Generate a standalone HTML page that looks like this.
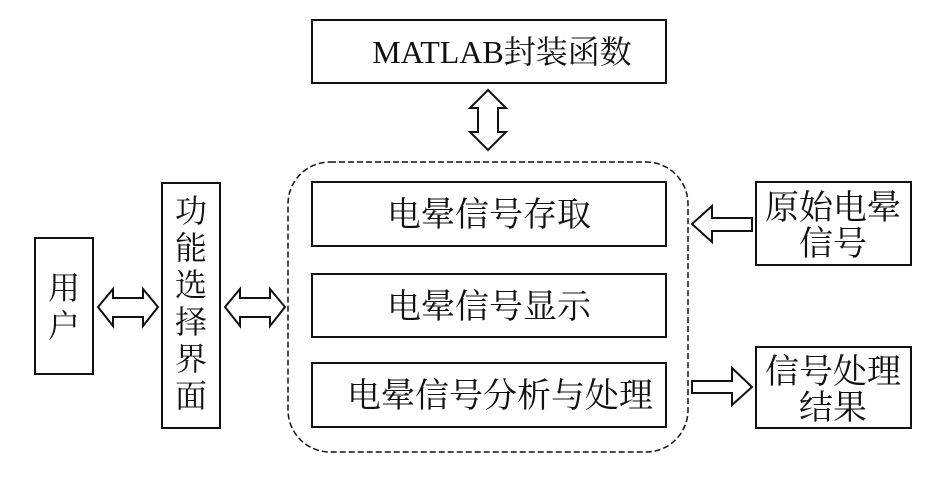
<!DOCTYPE html>
<html><head><meta charset="utf-8"><style>
html,body{margin:0;padding:0;background:#fff;}
svg text{font-family:"Liberation Serif","Noto Serif CJK SC","Noto Sans CJK SC",serif;fill:#111;}
</style></head><body>
<svg width="945" height="472" viewBox="0 0 945 472" xmlns="http://www.w3.org/2000/svg">
<g fill="#fff" stroke="#111" stroke-width="2">
<rect x="312" y="20" width="354" height="63"/>
<rect x="35" y="238" width="58" height="136"/>
<rect x="162" y="183" width="58" height="245"/>
<rect x="288" y="162" width="400" height="290" rx="42" ry="42" stroke-dasharray="6,3" stroke-width="1.5"/>
<rect x="312" y="182" width="354" height="64"/>
<rect x="312" y="274" width="354" height="63"/>
<rect x="312" y="363" width="354" height="64"/>
<rect x="756" y="182" width="155" height="83"/>
<rect x="756" y="347" width="155" height="81"/>
<polygon points="98,307 113,289 113,298 143,298 143,289 158,307 143,326 143,317 113,317 113,326"/>
<polygon points="225,307 240,289 240,298 270,298 270,289 285,307 270,326 270,317 240,317 240,326"/>
<polygon points="488,90 506,108 498,108 498,132 506,132 488,150 470,132 478,132 478,108 470,108"/>
<polygon points="692,224 712,206 712,218 752,218 752,231 712,231 712,242"/>
<polygon points="752,387 732,368 732,381 692,381 692,393 732,393 732,405"/>
</g>
<text x="502" y="63" font-size="32" text-anchor="middle">MATLAB封装函数</text>
<text x="64" y="299" font-size="32" text-anchor="middle">用</text>
<text x="64" y="337" font-size="32" text-anchor="middle">户</text>
<g font-size="32" text-anchor="middle">
<text x="191" y="222">功</text>
<text x="191" y="259">能</text>
<text x="191" y="296">选</text>
<text x="191" y="333">择</text>
<text x="191" y="370">界</text>
<text x="191" y="407">面</text>
</g>
<text x="489" y="226" font-size="34" text-anchor="middle">电晕信号存取</text>
<text x="489" y="318" font-size="34" text-anchor="middle">电晕信号显示</text>
<text x="500" y="407" font-size="34" text-anchor="middle">电晕信号分析与处理</text>
<text x="833" y="219" font-size="34" text-anchor="middle">原始电晕</text>
<text x="833" y="255" font-size="34" text-anchor="middle">信号</text>
<text x="833" y="383" font-size="34" text-anchor="middle">信号处理</text>
<text x="833" y="419" font-size="34" text-anchor="middle">结果</text>
</svg>
</body></html>
